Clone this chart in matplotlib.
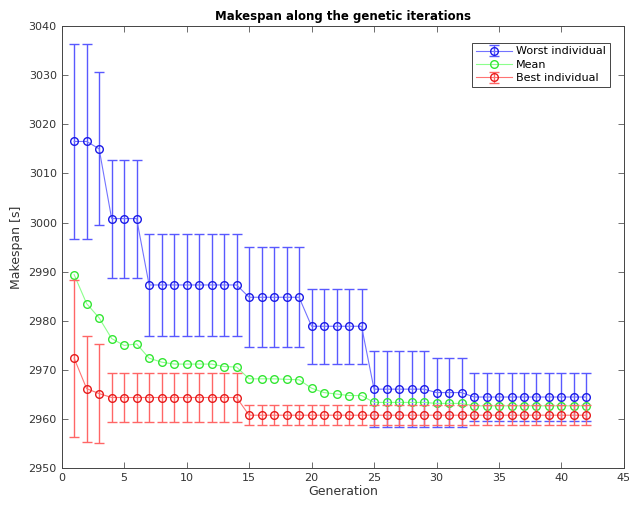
import matplotlib
matplotlib.use('Agg')
import matplotlib.pyplot as plt
import numpy as np

# values
generations = list(range(1, 43))

worst_mean = [3016.5, 3016.5, 3015.0, 3000.8, 3000.8, 3000.8] + [2987.3] * 8 + [2984.8] * 5 + \
             [2978.9] * 5 + [2966.1] * 5 + [2965.4] * 3 + [2964.5] * 10
worst_err = [19.8, 19.8, 15.6, 12.0, 12.0, 12.0] + [10.3] * 8 + [10.2] * 5 + \
            [7.6] * 5 + [7.8] * 5 + [7.0] * 3 + [4.9] * 10

mean_vals = [2989.4, 2983.5, 2980.6, 2976.4, 2975.0, 2975.3, 2972.4, 2971.6,
             2971.2, 2971.2, 2971.2, 2971.2, 2970.7, 2970.6,
             2968.2, 2968.2, 2968.2, 2968.1, 2968.0,
             2966.3, 2965.4, 2965.1, 2964.8, 2964.8,
             2963.4, 2963.4, 2963.4, 2963.4, 2963.4, 2963.2, 2963.2, 2963.2] + [2962.7] * 10

best_mean = [2972.4, 2966.2, 2965.2] + [2964.4] * 11 + [2960.8] * 28
best_err = [16.0, 10.8, 10.0] + [5.0] * 11 + [2.05] * 28

fig = plt.figure(figsize=(6.29, 5.09), dpi=100)
ax = fig.add_axes([0.098, 0.080, 0.894, 0.869])

h_worst = ax.errorbar(generations, worst_mean, yerr=worst_err, color=(0.45, 0.45, 1.0),
                      ecolor=(0.35, 0.35, 1.0), marker='o', markersize=5.5, markerfacecolor='none',
                      markeredgecolor=(0.1, 0.1, 0.9), markeredgewidth=1.0, linewidth=0.8,
                      elinewidth=1.0, capsize=3.5, capthick=1.8, label='Worst individual')
h_mean, = ax.plot(generations, mean_vals, color=(0.55, 1.0, 0.55), marker='o', markersize=5.5,
                  markerfacecolor='none', markeredgecolor=(0.2, 0.9, 0.2), markeredgewidth=1.0,
                  linewidth=0.8, label='Mean')
h_best = ax.errorbar(generations, best_mean, yerr=best_err, color=(1.0, 0.45, 0.45),
                     ecolor=(1.0, 0.4, 0.4), marker='o', markersize=5.5, markerfacecolor='none',
                     markeredgecolor=(0.9, 0.1, 0.1), markeredgewidth=1.0, linewidth=0.8,
                     elinewidth=1.0, capsize=3.5, capthick=1.8, label='Best individual')

ax.set_xlim(0, 45)
ax.set_ylim(2950, 3040)
ax.set_xticks(np.arange(0, 46, 5))
ax.set_yticks(np.arange(2950, 3041, 10))
ax.tick_params(direction='in', top=True, right=True, labelsize=8, colors='#555555',
               labelcolor='#333333', length=4, width=0.6)
for s in ax.spines.values():
    s.set_color('#444444')
    s.set_linewidth(0.7)

ax.set_title('Makespan along the genetic iterations', fontsize=8.5, fontweight='bold', pad=4)
ax.set_xlabel('Generation', fontsize=9, color='#333333', labelpad=1)
ax.set_ylabel('Makespan [s]', fontsize=9, color='#333333', labelpad=4)

leg = ax.legend([h_worst, h_mean, h_best], ['Worst individual', 'Mean', 'Best individual'],
                loc='upper right', fontsize=8, fancybox=False, framealpha=1, borderpad=0.35,
                handlelength=3.2, labelspacing=0.3, handletextpad=0.4,
                bbox_to_anchor=(0.985, 0.975))
leg.get_frame().set_edgecolor('#444444')
leg.get_frame().set_linewidth(0.7)

fig.savefig('out.png', dpi=100)
